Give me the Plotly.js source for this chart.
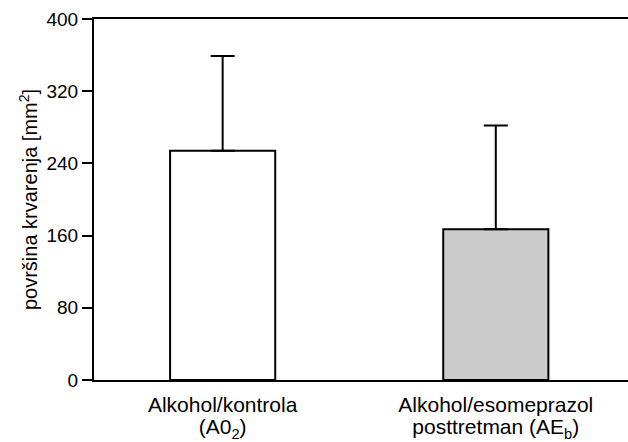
<!DOCTYPE html>
<html><head><meta charset="utf-8">
<script src="https://cdn.plot.ly/plotly-3.0.1.min.js"></script>
<style>html,body{margin:0;padding:0;background:#fff}</style>
</head><body><div id="chart" style="width:628px;height:442px"></div>
<script>
const categories = ["Alkohol/kontrola<br>(A0<sub>2</sub>)", "Alkohol/esomeprazol<br>posttretman (AE<sub>b</sub>)"];
const means = [254, 167];
const errPlus = [105, 115];
const yTicks = [0, 80, 160, 240, 320, 400];
const barColors = ["#ffffff", "#cccccc"];

Plotly.newPlot("chart", [{
  type: "bar",
  x: [0, 1],
  y: means,
  width: 0.385,
  marker: {color: barColors, line: {color: "#000", width: 2}},
  error_y: {type: "data", symmetric: false, array: errPlus, arrayminus: [0, 0], color: "#000", thickness: 2, width: 12},
  hoverinfo: "none"
}], {
  width: 628, height: 442,
  margin: {l: 94, r: 0, t: 19, b: 62, pad: 0},
  paper_bgcolor: "#fff", plot_bgcolor: "#fff",
  font: {family: "Liberation Sans, Arial, sans-serif", size: 19, color: "#000"},
  showlegend: false,
  xaxis: {
    range: [-0.471, 1.484],
    tickvals: [0, 1], ticktext: categories,
    showline: true, linecolor: "#000", linewidth: 2, mirror: true,
    ticks: "", showgrid: false, zeroline: false, fixedrange: true,
    tickfont: {size: 21}, ticklabelstandoff: 5
  },
  yaxis: {
    range: [0, 400],
    tickvals: yTicks, ticktext: yTicks.map(String),
    showline: true, linecolor: "#000", linewidth: 2,
    ticks: "outside", ticklen: 10, tickwidth: 2, tickcolor: "#000",
    showgrid: false, zeroline: false, fixedrange: true,
    tickfont: {size: 19},
    title: {text: "površina krvarenja [mm<sup>2</sup>]", font: {size: 20}, standoff: 3}
  }
}, {displayModeBar: false, staticPlot: true}).then(function () {
  document.querySelectorAll('.xtick text tspan.line').forEach(function (t) {
    if (t.getAttribute('dy') === '1.3em') t.setAttribute('dy', '1.05em');
  });
});
</script></body></html>
